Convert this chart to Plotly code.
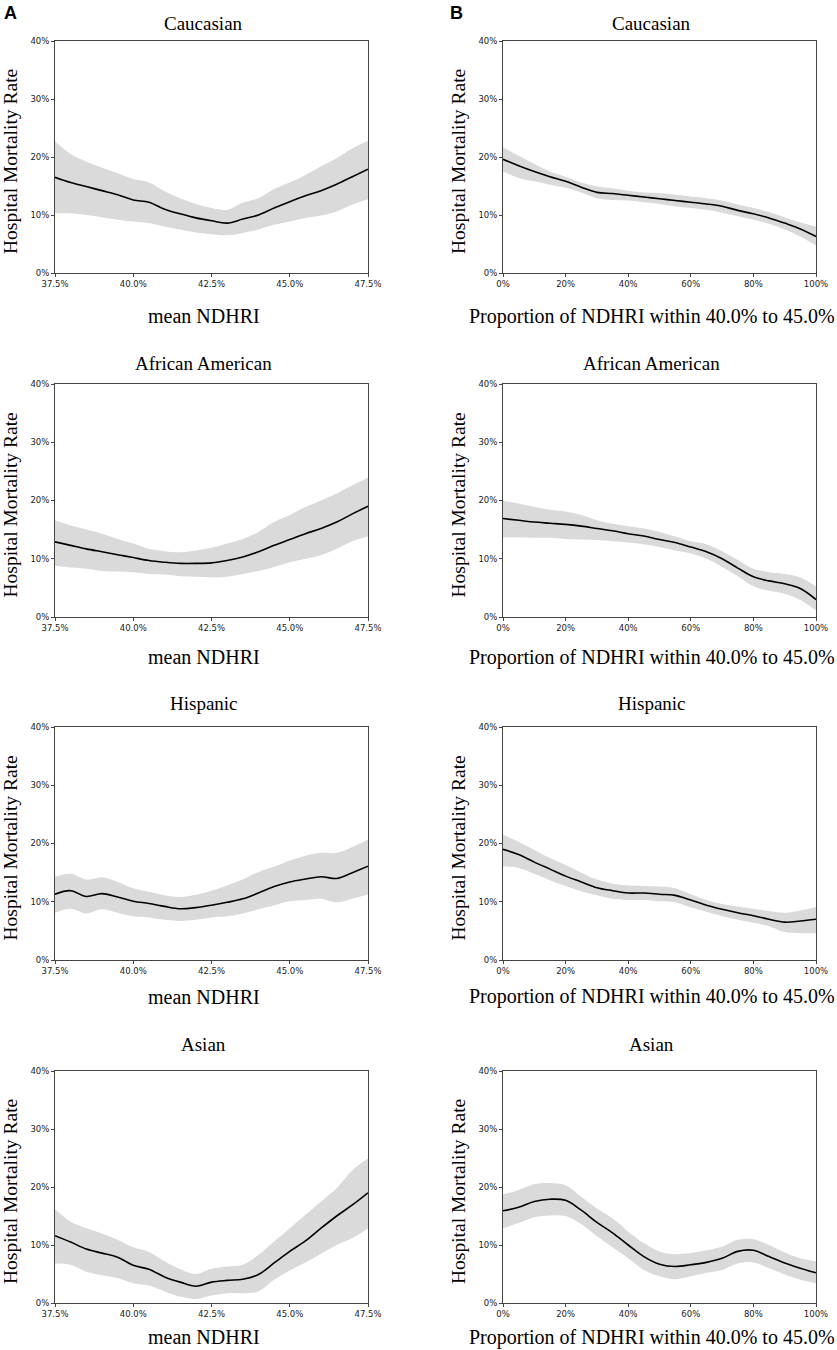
import plotly.graph_objects as go

# x grids (percent units)
x_ndhri = [37.5, 38.0, 38.5, 39.0, 39.5, 40.0, 40.5, 41.0, 41.5, 42.0, 42.5,
           43.0, 43.5, 44.0, 44.5, 45.0, 45.5, 46.0, 46.5, 47.0, 47.5]
x_prop = [0, 5, 10, 15, 20, 25, 30, 35, 40, 45, 50,
          55, 60, 65, 70, 75, 80, 85, 90, 95, 100]

groups = ["Caucasian", "African American", "Hispanic", "Asian"]

# column A: mortality vs mean NDHRI (mean, upper, lower), in %
cau_a_mean = [16.5, 15.6, 14.9, 14.2, 13.5, 12.6, 12.2, 11.0, 10.2, 9.5, 9.0,
              8.6, 9.3, 10.0, 11.2, 12.3, 13.3, 14.2, 15.3, 16.6, 17.9]
cau_a_up = [22.7, 20.5, 19.2, 18.2, 17.2, 16.2, 15.6, 14.1, 12.9, 11.9, 11.2,
            10.9, 12.1, 12.9, 14.5, 15.6, 16.9, 18.4, 19.8, 21.5, 22.8]
cau_a_lo = [10.3, 10.3, 10.0, 9.6, 9.2, 8.9, 8.6, 8.0, 7.5, 7.0, 6.7,
            6.5, 6.9, 7.5, 8.3, 8.9, 9.5, 9.9, 10.6, 11.8, 12.7]

afr_a_mean = [12.9, 12.3, 11.7, 11.2, 10.7, 10.2, 9.7, 9.4, 9.2, 9.2, 9.3,
              9.7, 10.3, 11.2, 12.3, 13.3, 14.3, 15.2, 16.3, 17.7, 19.0]
afr_a_up = [16.6, 15.7, 15.0, 14.3, 13.4, 12.6, 11.7, 11.3, 11.1, 11.4, 11.9,
            12.6, 13.4, 14.6, 16.3, 17.5, 18.9, 20.0, 21.2, 22.6, 23.9]
afr_a_lo = [8.8, 8.5, 8.3, 7.9, 7.8, 7.7, 7.4, 7.3, 7.0, 6.9, 6.8,
            6.9, 7.4, 7.9, 8.6, 9.4, 10.0, 10.6, 11.7, 13.0, 13.8]

his_a_mean = [11.3, 11.9, 10.9, 11.4, 10.8, 10.1, 9.7, 9.2, 8.8, 9.0, 9.4,
              9.9, 10.5, 11.5, 12.6, 13.4, 13.9, 14.3, 14.0, 15.0, 16.1]
his_a_up = [14.3, 14.8, 13.8, 14.2, 13.4, 12.3, 11.7, 11.1, 10.8, 11.2, 11.9,
            12.8, 13.8, 15.1, 16.0, 17.1, 17.9, 18.4, 18.4, 19.4, 20.7]
his_a_lo = [8.1, 8.8, 8.0, 8.7, 8.1, 7.5, 7.3, 6.9, 6.7, 6.9, 7.3,
            7.5, 8.0, 8.7, 9.4, 10.1, 10.3, 10.5, 9.9, 10.5, 11.3]

asi_a_mean = [11.6, 10.5, 9.3, 8.6, 7.9, 6.5, 5.8, 4.5, 3.6, 2.9, 3.6,
              3.9, 4.1, 4.9, 6.9, 8.9, 10.7, 12.9, 15.0, 16.9, 19.0]
asi_a_up = [16.2, 14.0, 12.9, 12.0, 10.9, 9.6, 8.8, 7.2, 5.8, 5.0, 5.9,
            6.3, 6.6, 8.3, 10.6, 12.9, 15.2, 17.5, 19.8, 22.9, 24.9]
asi_a_lo = [6.8, 6.6, 5.4, 4.8, 4.3, 3.4, 3.0, 2.0, 1.1, 0.7, 1.3,
            1.7, 1.7, 2.0, 4.0, 5.6, 7.0, 8.5, 10.0, 11.2, 12.9]

# column B: mortality vs proportion of NDHRI within 40.0%-45.0%, in %
cau_b_mean = [19.6, 18.5, 17.5, 16.6, 15.8, 14.8, 13.9, 13.7, 13.4, 13.1, 12.8,
              12.5, 12.2, 11.9, 11.5, 10.8, 10.2, 9.5, 8.6, 7.6, 6.3]
cau_b_up = [21.7, 20.2, 18.8, 17.5, 16.6, 15.6, 14.9, 14.6, 14.2, 13.9, 13.8,
            13.5, 13.2, 12.9, 12.5, 11.8, 11.2, 10.5, 9.6, 8.7, 8.0]
cau_b_lo = [17.5, 16.4, 15.8, 15.2, 14.7, 13.9, 12.9, 12.6, 12.5, 12.2, 11.9,
            11.5, 11.2, 10.9, 10.4, 9.8, 9.2, 8.5, 7.5, 6.3, 4.7]

afr_b_mean = [16.9, 16.6, 16.3, 16.1, 15.9, 15.6, 15.2, 14.8, 14.3, 13.9, 13.3,
              12.8, 12.0, 11.2, 10.0, 8.4, 6.9, 6.2, 5.7, 4.9, 3.0]
afr_b_up = [19.9, 19.5, 18.9, 18.4, 18.1, 17.5, 16.6, 16.0, 15.6, 15.2, 14.6,
            13.8, 13.0, 12.5, 11.3, 9.8, 8.3, 7.7, 7.4, 6.8, 5.3]
afr_b_lo = [13.7, 13.7, 13.6, 13.6, 13.4, 13.3, 13.2, 13.0, 12.8, 12.5, 12.0,
            11.4, 10.9, 10.0, 8.6, 7.0, 5.3, 4.5, 4.0, 2.9, 1.1]

his_b_mean = [19.0, 18.1, 16.8, 15.6, 14.4, 13.4, 12.4, 11.9, 11.5, 11.5, 11.3,
              11.1, 10.3, 9.4, 8.7, 8.1, 7.6, 7.0, 6.5, 6.7, 7.0]
his_b_up = [21.5, 20.3, 18.9, 17.5, 16.3, 15.0, 13.8, 13.1, 12.8, 12.7, 12.6,
            12.3, 11.3, 10.3, 9.6, 9.2, 8.8, 8.4, 8.1, 8.5, 9.1]
his_b_lo = [16.1, 15.8, 14.8, 13.7, 12.7, 11.8, 11.1, 10.5, 10.3, 10.3, 10.1,
            9.9, 9.0, 8.3, 7.5, 6.9, 6.4, 5.8, 4.8, 4.6, 4.6]

asi_b_mean = [15.9, 16.5, 17.5, 17.9, 17.7, 16.0, 13.9, 12.1, 10.0, 8.0, 6.7,
              6.3, 6.6, 7.0, 7.7, 8.9, 9.1, 8.0, 6.9, 6.0, 5.2]
asi_b_up = [18.7, 19.5, 20.5, 20.7, 20.3, 18.3, 16.3, 14.6, 12.3, 10.3, 8.9,
            8.4, 8.6, 9.1, 9.7, 10.9, 11.0, 10.0, 8.7, 7.7, 7.2]
asi_b_lo = [12.9, 13.8, 14.8, 15.1, 15.0, 13.6, 11.5, 9.6, 7.7, 5.7, 4.6,
            4.1, 4.6, 5.2, 5.7, 6.8, 7.0, 6.0, 4.9, 4.0, 3.4]

col_a = [(cau_a_mean, cau_a_up, cau_a_lo), (afr_a_mean, afr_a_up, afr_a_lo),
         (his_a_mean, his_a_up, his_a_lo), (asi_a_mean, asi_a_up, asi_a_lo)]
col_b = [(cau_b_mean, cau_b_up, cau_b_lo), (afr_b_mean, afr_b_up, afr_b_lo),
         (his_b_mean, his_b_up, his_b_lo), (asi_b_mean, asi_b_up, asi_b_lo)]

# tick values and labels
y_ticks = [0, 10, 20, 30, 40]
y_labels = ["0%", "10%", "20%", "30%", "40%"]
a_ticks = [37.5, 40.0, 42.5, 45.0, 47.5]
a_labels = ["37.5%", "40.0%", "42.5%", "45.0%", "47.5%"]
b_ticks = [0, 20, 40, 60, 80, 100]
b_labels = ["0%", "20%", "40%", "60%", "80%", "100%"]

W, H = 837, 1350
# plot frames in pixels (top, bottom) per row, (left, right) per column
rows_px = [(41, 273), (384, 617), (727, 960), (1071, 1303)]
cols_px = [(55, 368), (503, 816)]
title_y = [23, 363, 703, 1044]
xtitle_y = [316, 657, 997, 1337]

serif = "Liberation Serif, Times New Roman, serif"
sans = "DejaVu Sans, sans-serif"
band_col = "#dadada"

fig = go.Figure()
annotations = []


def label(text, x, y, size, family=serif, angle=0):
    return dict(text=text, x=x / W, y=1 - y / H, xref="paper", yref="paper",
                xanchor="center", yanchor="middle", showarrow=False, textangle=angle,
                font=dict(family=family, size=size, color="black"))


n = 0
for r in range(4):
    top, bot = rows_px[r]
    for c in range(2):
        n += 1
        left, right = cols_px[c]
        xs = x_ndhri if c == 0 else x_prop
        mean, up, lo = (col_a if c == 0 else col_b)[r]
        xa = "x" if n == 1 else "x%d" % n
        ya = "y" if n == 1 else "y%d" % n

        fig.add_trace(go.Scatter(x=xs, y=lo, mode="lines", line=dict(width=0, shape="spline"),
                                 xaxis=xa, yaxis=ya, showlegend=False, hoverinfo="skip"))
        fig.add_trace(go.Scatter(x=xs, y=up, mode="lines", line=dict(width=0, shape="spline"),
                                 fill="tonexty", fillcolor=band_col,
                                 xaxis=xa, yaxis=ya, showlegend=False, hoverinfo="skip"))
        fig.add_trace(go.Scatter(x=xs, y=mean, mode="lines",
                                 line=dict(color="black", width=1.6, shape="spline"),
                                 xaxis=xa, yaxis=ya, showlegend=False))

        axis_common = dict(showline=True, mirror=True, linecolor="#444", linewidth=1,
                           showgrid=False, zeroline=False, ticks="outside", ticklen=3,
                           tickwidth=1, tickcolor="#444", tickmode="array", automargin=False,
                           tickfont=dict(family=sans, size=8.5, color="#222"))
        xkey = "xaxis" if n == 1 else "xaxis%d" % n
        ykey = "yaxis" if n == 1 else "yaxis%d" % n
        if c == 0:
            xfmt = dict(range=[37.5, 47.5], tickvals=a_ticks, ticktext=a_labels)
        else:
            xfmt = dict(range=[0, 100], tickvals=b_ticks, ticktext=b_labels)
        fig.update_layout({
            xkey: dict(domain=[left / W, right / W], anchor=ya, **xfmt, **axis_common),
            ykey: dict(domain=[1 - bot / H, 1 - top / H], anchor=xa, range=[0, 40],
                       tickvals=y_ticks, ticktext=y_labels, **axis_common),
        })

        cx = (left + right) / 2 - 8
        annotations.append(label(groups[r], cx, title_y[r], 19))
        xtitle = "mean NDHRI" if c == 0 else "Proportion of NDHRI within 40.0% to 45.0%"
        annotations.append(label(xtitle, cx, xtitle_y[r], 20))
        annotations.append(label("Hospital Mortality Rate", left - 45, (top + bot) / 2 + 5, 19.5, angle=-90))

# panel letters
annotations.append(label("<b>A</b>", 10, 13, 18, family="Liberation Sans, Arial"))
annotations.append(label("<b>B</b>", 456, 13, 18, family="Liberation Sans, Arial"))

fig.update_layout(width=W, height=H, margin=dict(l=0, r=0, t=0, b=0),
                  paper_bgcolor="white", plot_bgcolor="white",
                  annotations=annotations, showlegend=False)

# drop the default page margin so the figure fills the window exactly
fig.write_html("out.html", config={"displayModeBar": False},
               post_script="document.body.style.margin = '0';")
